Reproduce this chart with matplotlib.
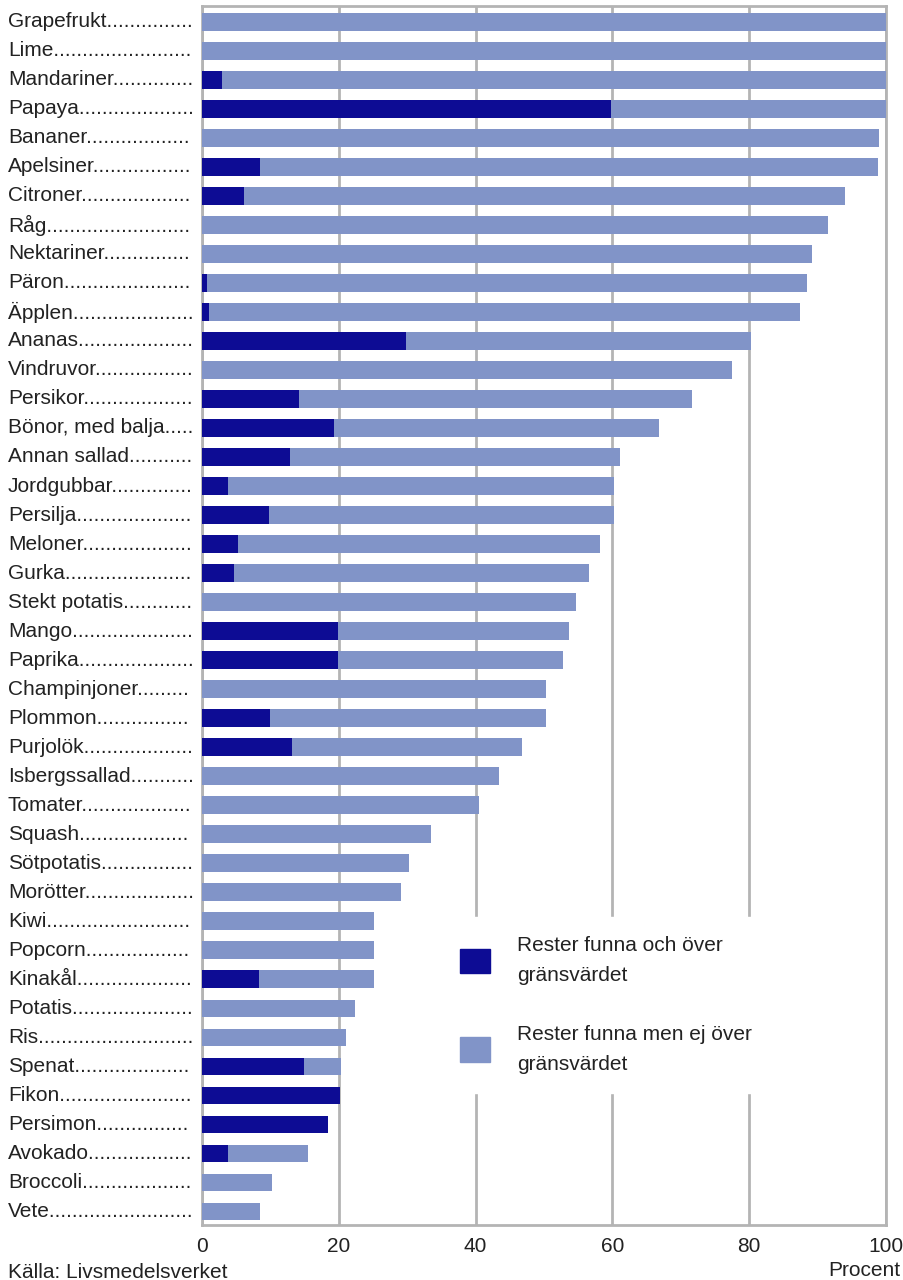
import matplotlib
matplotlib.use("Agg")
import matplotlib.pyplot as plt
from matplotlib.transforms import blended_transform_factory

plt.rcParams['font.family'] = ['Liberation Sans', 'DejaVu Sans']

# livsmedel, sorterade efter andel prover med rester
names = ['Grapefrukt', 'Lime', 'Mandariner', 'Papaya', 'Bananer', 'Apelsiner',
         'Citroner', 'Råg', 'Nektariner', 'Päron', 'Äpplen', 'Ananas',
         'Vindruvor', 'Persikor', 'Bönor, med balja', 'Annan sallad',
         'Jordgubbar', 'Persilja', 'Meloner', 'Gurka', 'Stekt potatis', 'Mango',
         'Paprika', 'Champinjoner', 'Plommon', 'Purjolök', 'Isbergssallad',
         'Tomater', 'Squash', 'Sötpotatis', 'Morötter', 'Kiwi', 'Popcorn',
         'Kinakål', 'Potatis', 'Ris', 'Spenat', 'Fikon', 'Persimon', 'Avokado',
         'Broccoli', 'Vete']

# andel prover med rester totalt (procent)
total = [100, 100, 100.2, 100, 99.0, 98.8,
         94.0, 91.5, 89.2, 88.5, 87.4, 80.2,
         77.5, 71.6, 66.8, 61.1,
         60.2, 60.2, 58.2, 56.6, 54.7, 53.7,
         52.8, 50.3, 50.3, 46.8, 43.4,
         40.5, 33.5, 30.3, 29.1, 25.1, 25.1,
         25.1, 22.4, 21.1, 20.3, 20.2, 18.4, 15.5,
         10.2, 8.5]

# andel prover över gränsvärdet (procent)
over = [0, 0, 2.9, 59.8, 0, 8.5,
        6.1, 0, 0, 0.7, 1.0, 29.8,
        0, 14.2, 19.3, 12.9,
        3.8, 9.8, 5.3, 4.7, 0, 19.9,
        19.9, 0, 9.9, 13.2, 0,
        0, 0, 0, 0, 0, 0,
        8.3, 0, 0, 14.9, 20.2, 18.4, 3.8,
        0, 0]

under = [t - o for t, o in zip(total, over)]

label_over = 'Rester funna och över\ngränsvärdet'
label_under = 'Rester funna men ej över\ngränsvärdet'
xticks = [0, 20, 40, 60, 80, 100]

dark = '#0d0c94'
light = '#8194c8'
grey = '#b4b4b4'
textcol = '#222222'
fs = 15

W, H = 904, 1280
fig = plt.figure(figsize=(W / 100, H / 100), dpi=100)
ax = fig.add_axes([202 / W, 1 - 1225 / H, (886 - 202) / W, (1225 - 6) / H])

ypos = list(range(len(names)))
ax.barh(ypos, over, height=0.59, color=dark, zorder=3)
ax.barh(ypos, under, left=over, height=0.59, color=light, zorder=3)

ax.set_xlim(0, 100)
ax.set_ylim(len(names) - 0.52, -0.55)
ax.set_xticks(xticks)
ax.set_xticklabels([str(v) for v in xticks], fontsize=fs, color=textcol)
ax.tick_params(axis='x', length=0, pad=9)
ax.set_yticks([])
ax.grid(axis='x', color=grey, linewidth=2, zorder=0)
for s in ax.spines.values():
    s.set_color(grey)
    s.set_linewidth(2)

# namn med punktrader fram till axeln
renderer = fig.canvas.get_renderer()
trans = blended_transform_factory(fig.transFigure, ax.transData)
for y, n in zip(ypos, names):
    t = ax.text(8 / W, y, n, transform=trans, fontsize=fs, color=textcol,
                va='center', ha='left')
    txt = n
    while True:
        t.set_text(txt + '.')
        if t.get_window_extent(renderer).width > 186:
            break
        txt += '.'
    t.set_text(txt)

leg = ax.legend([plt.Rectangle((0, 0), 1, 1, color=dark),
                 plt.Rectangle((0, 0), 1, 1, color=light)],
                [label_over, label_under],
                loc='upper left', bbox_to_anchor=(441 / W, 1 - 917 / H),
                bbox_transform=fig.transFigure, borderaxespad=0,
                fontsize=fs, frameon=True, fancybox=False, framealpha=1,
                edgecolor='white', facecolor='white', borderpad=0.9,
                handlelength=1.45, handleheight=1.45, handletextpad=1.3,
                labelspacing=1.9)
for t in leg.get_texts():
    t.set_color(textcol)
    t.set_linespacing(1.75)
leg.set_zorder(5)

fig.text(8 / W, 1 - 1272 / H, 'Källa: Livsmedelsverket', fontsize=fs,
         color=textcol, ha='left', va='center')
fig.text(900 / W, 1 - 1270 / H, 'Procent', fontsize=fs,
         color=textcol, ha='right', va='center')

fig.savefig('out.png', dpi=100, facecolor='white')
